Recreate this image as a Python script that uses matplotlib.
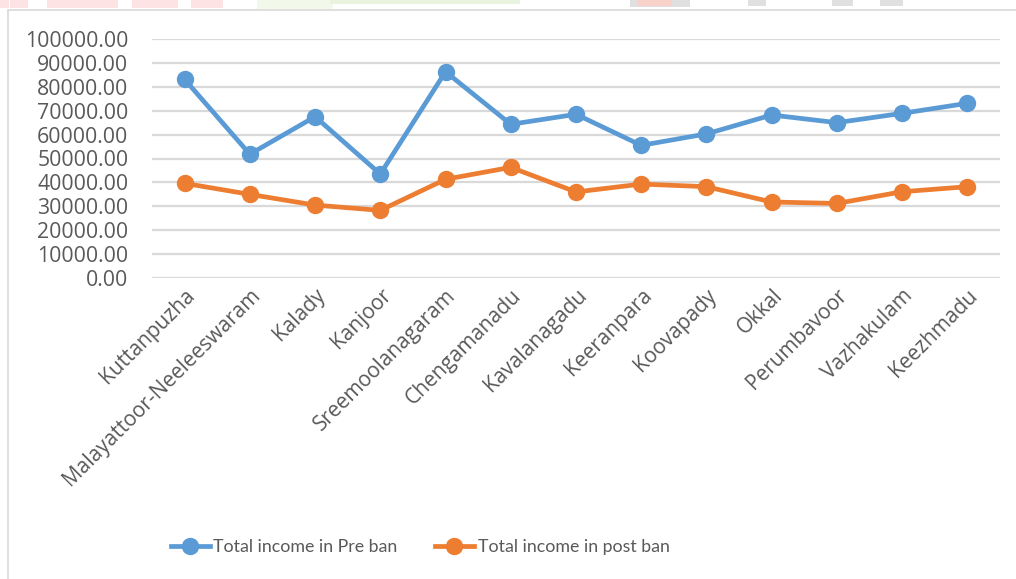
import matplotlib
matplotlib.use("Agg")
import matplotlib.pyplot as plt
from matplotlib.lines import Line2D
from matplotlib.patches import Rectangle

places = ["Kuttanpuzha", "Malayattoor-Neeleeswaram", "Kalady", "Kanjoor",
          "Sreemoolanagaram", "Chengamanadu", "Kavalanagadu", "Keeranpara",
          "Koovapady", "Okkal", "Perumbavoor", "Vazhakulam", "Keezhmadu"]
pre_ban = [83100, 51800, 67500, 43500, 86300, 64300, 68500, 55500,
           60300, 68200, 65000, 68900, 73100]
post_ban = [39600, 35000, 30500, 28300, 41300, 46300, 36000, 39300,
            38200, 31800, 31200, 36100, 38200]
y_ticks = list(range(0, 100001, 10000))

BLUE = "#5B9BD5"
ORANGE = "#ED7D31"
TEXT = "#595959"
GRID = "#D9D9D9"

W, H = 1016, 579
fig = plt.figure(figsize=(W / 100, H / 100), dpi=100)
fig.patch.set_facecolor("white")


def px_rect(x0, x1, y0, y1, color):
    """Filled rectangle given in pixel coordinates (origin top-left)."""
    fig.patches.append(Rectangle((x0 / W, 1 - y1 / H), (x1 - x0) / W,
                                 (y1 - y0) / H, transform=fig.transFigure,
                                 facecolor=color, edgecolor="none", zorder=0))


# faint page decoration showing above the chart frame
for x0, x1 in [(0, 9), (10, 28), (47, 118), (132, 178), (191, 223)]:
    px_rect(x0, x1, 0, 8, "#FDE3E3")
px_rect(257, 333, 0, 9, "#F2F9EA")
px_rect(330, 520, 0, 4, "#E9F3DF")
px_rect(630, 690, 0, 7, "#E0E0E0")
px_rect(638, 672, 0, 6, "#F8D2C8")
for x0, x1 in [(748, 766), (832, 853), (880, 903)]:
    px_rect(x0, x1, 0, 6, "#E0E0E0")

# chart frame
fig.patches.append(Rectangle((8 / W, -0.05), 1.1, (H - 10) / H + 0.05,
                             transform=fig.transFigure, fill=False,
                             edgecolor=GRID, linewidth=1.2))

ax = fig.add_axes([152 / W, (H - 278) / H, 848 / W, 239 / H])
x = list(range(len(places)))
ax.plot(x, pre_ban, color=BLUE, lw=3.4, marker="o", ms=11.5, zorder=3,
        solid_capstyle="round", label="Total income in Pre ban")
ax.plot(x, post_ban, color=ORANGE, lw=3.4, marker="o", ms=11.5, zorder=3,
        solid_capstyle="round", label="Total income in post ban")

ax.set_xlim(-0.5, len(places) - 0.5)
ax.set_ylim(0, 100000)
ax.set_yticks(y_ticks)
ax.set_yticklabels([f"{v:.2f}" for v in y_ticks], fontfamily="Open Sans",
                   fontsize=15.3, color=TEXT)
ax.yaxis.grid(True, color=GRID, linewidth=1.6)
ax.set_axisbelow(True)
ax.tick_params(axis="y", length=0, pad=17)
ax.tick_params(axis="x", length=0, pad=5)
ax.set_xticks(x)
ax.set_xticklabels(places, rotation=45, ha="right", va="top",
                   rotation_mode="anchor", fontfamily="Open Sans",
                   fontsize=15, color=TEXT)
for s in ax.spines.values():
    s.set_visible(False)

handles = [Line2D([0], [0], color=BLUE, lw=3.4, marker="o", ms=11.5),
           Line2D([0], [0], color=ORANGE, lw=3.4, marker="o", ms=11.5)]
leg = fig.legend(handles, ["Total income in Pre ban", "Total income in post ban"],
                 loc="center", bbox_to_anchor=(420 / W, (H - 547) / H), ncol=2,
                 frameon=False, handlelength=2.2, handletextpad=0.2,
                 columnspacing=2.1,
                 prop={"family": "Lato", "size": 12.8})
for t in leg.get_texts():
    t.set_color(TEXT)

fig.savefig("out.png", dpi=100)
